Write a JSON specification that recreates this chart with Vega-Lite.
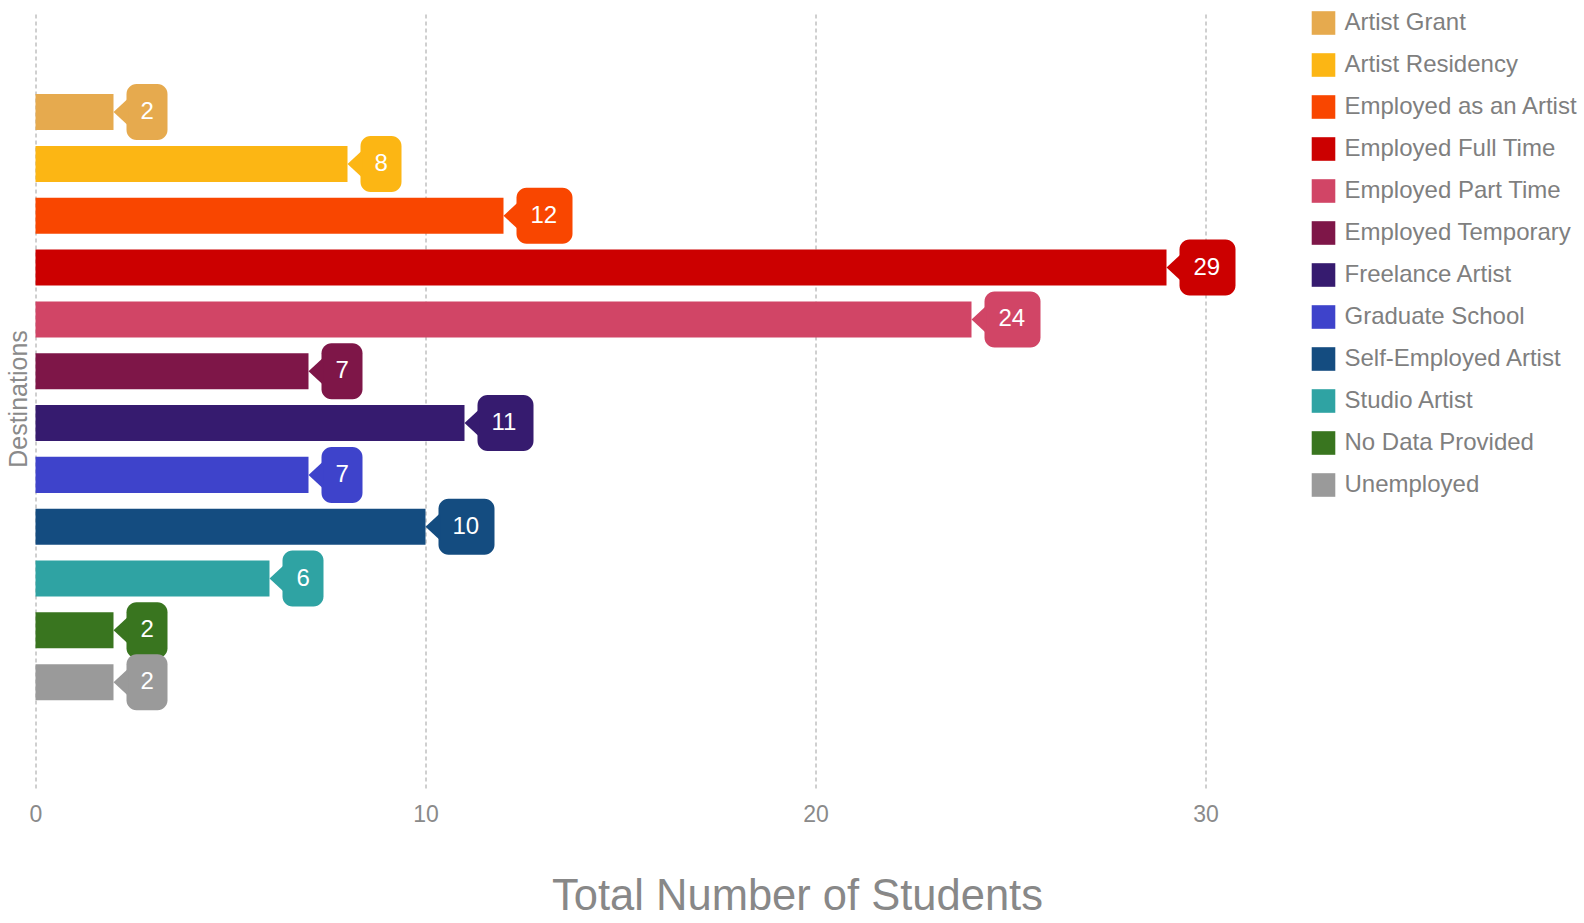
{
  "$schema": "https://vega.github.io/schema/vega-lite/v6.json",
  "autosize": {"type": "none"},
  "padding": {"left": 35.5, "top": 14, "right": 300.5, "bottom": 135},
  "width": 1248,
  "height": 774,
  "background": "white",
  "config": {
    "font": "Liberation Sans",
    "view": {"stroke": null}
  },
  "data": {
    "values": [
      {"destination": "Artist Grant", "students": 2},
      {"destination": "Artist Residency", "students": 8},
      {"destination": "Employed as an Artist", "students": 12},
      {"destination": "Employed Full Time", "students": 29},
      {"destination": "Employed Part Time", "students": 24},
      {"destination": "Employed Temporary", "students": 7},
      {"destination": "Freelance Artist", "students": 11},
      {"destination": "Graduate School", "students": 7},
      {"destination": "Self-Employed Artist", "students": 10},
      {"destination": "Studio Artist", "students": 6},
      {"destination": "No Data Provided", "students": 2},
      {"destination": "Unemployed", "students": 2}
    ]
  },
  "encoding": {
    "y": {
      "field": "destination",
      "type": "nominal",
      "scale": {
        "domain": [" ", "Artist Grant", "Artist Residency", "Employed as an Artist", "Employed Full Time", "Employed Part Time", "Employed Temporary", "Freelance Artist", "Graduate School", "Self-Employed Artist", "Studio Artist", "No Data Provided", "Unemployed", "  "],
        "paddingInner": 0.305,
        "paddingOuter": 0.62,
        "align": 0.44
      },
      "axis": {
        "title": "Destinations",
        "labels": false,
        "ticks": false,
        "domain": false,
        "titleFontSize": 25,
        "titleFontWeight": "normal",
        "titleColor": "#8a8a8a",
        "titleAngle": 270,
        "titleAlign": "center",
        "titleBaseline": "middle",
        "titleX": -17.5,
        "titleY": 384.5
      }
    },
    "x": {
      "field": "students",
      "type": "quantitative",
      "scale": {"domain": [0, 32], "nice": false},
      "axis": {
        "title": "Total Number of Students",
        "values": [0, 10, 20, 30],
        "grid": true,
        "gridDash": [4, 3],
        "gridColor": "#a0a0a0",
        "gridWidth": 1,
        "domain": false,
        "ticks": false,
        "tickSize": 0,
        "labelFlush": false,
        "labelFontSize": 23,
        "labelColor": "#8a8a8a",
        "labelBaseline": "middle",
        "labelPadding": 26,
        "titleFontSize": 43.5,
        "titleFontWeight": "normal",
        "titleColor": "#888888",
        "titleX": 761.5,
        "titleY": 121,
        "titleBaseline": "alphabetic",
        "titleAlign": "center"
      }
    },
    "color": {
      "field": "destination",
      "type": "nominal",
      "scale": {
        "domain": ["Artist Grant", "Artist Residency", "Employed as an Artist", "Employed Full Time", "Employed Part Time", "Employed Temporary", "Freelance Artist", "Graduate School", "Self-Employed Artist", "Studio Artist", "No Data Provided", "Unemployed"],
        "range": ["#E6AA4E", "#FCB614", "#F94600", "#CC0000", "#D14566", "#7E1648", "#361B6F", "#3E43CB", "#144C80", "#2FA3A3", "#39751F", "#9A9A9A"]
      },
      "legend": {
        "title": null,
        "orient": "none",
        "legendX": 1276,
        "legendY": -3,
        "symbolType": "square",
        "symbolSize": 557,
        "symbolStrokeWidth": 0,
        "symbolOpacity": 1,
        "labelFontSize": 24,
        "labelColor": "#7f7f7f",
        "labelOffset": 9,
        "rowPadding": 18,
        "labelLimit": 400
      }
    }
  },
  "layer": [
    {"mark": {"type": "bar"}},
    {
      "transform": [{"filter": "datum.students < 10"}],
      "mark": {"type": "bar", "height": 56, "cornerRadius": 10, "xOffset": 13, "x2Offset": 54},
      "encoding": {"x2": {"field": "students"}}
    },
    {
      "transform": [{"filter": "datum.students >= 10"}],
      "mark": {"type": "bar", "height": 56, "cornerRadius": 10, "xOffset": 13, "x2Offset": 69},
      "encoding": {"x2": {"field": "students"}}
    },
    {
      "mark": {"type": "point", "shape": "M-0.48,0L0.6,-1L0.6,1Z", "size": 729, "filled": true, "opacity": 1, "xOffset": 6.5}
    },
    {
      "mark": {"type": "text", "align": "left", "baseline": "middle", "dx": 27, "fontSize": 24, "color": "white"},
      "encoding": {"text": {"field": "students", "type": "quantitative"}, "color": {"value": "white"}}
    }
  ]
}
